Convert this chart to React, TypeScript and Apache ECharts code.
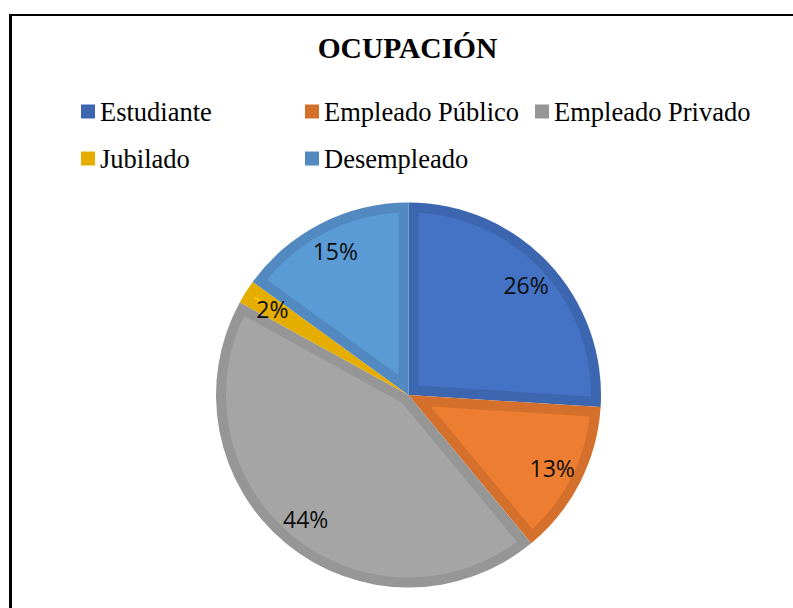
import React, { useEffect, useRef } from "react";
import * as echarts from "echarts";

const titleText = "OCUPACIÓN";
const categories = ["Estudiante", "Empleado Público", "Empleado Privado", "Jubilado", "Desempleado"];
const values = [26, 13, 44, 2, 15];
const fillColors = ["#4472C4", "#ED7D31", "#A5A5A5", "#FFC000", "#5B9BD5"];
const edgeColors = ["#3C66B0", "#D4702C", "#969696", "#E5AD00", "#5189C0"];
const legendColumns = [
  ["Estudiante", "Jubilado"],
  ["Empleado Público", "Desempleado"],
  ["Empleado Privado"],
];
const legendLefts = [81, 305, 535];

const CX = 408.5;
const CY = 395;
const R = 192.5;
const INSET = 10;

export default function App() {
  const ref = useRef<HTMLDivElement>(null);
  useEffect(() => {
    const chart = echarts.init(ref.current!, null, { renderer: "svg" });
    const total = values.reduce((a, b) => a + b, 0);
    const pt = (r: number, a: number) => [CX + r * Math.sin(a), CY - r * Math.cos(a)];
    const renderInset = (params: any) => {
      const i = params.dataIndex;
      const before = values.slice(0, i).reduce((a, b) => a + b, 0);
      const a0 = (before / total) * Math.PI * 2;
      const a1 = ((before + values[i]) / total) * Math.PI * 2;
      const half = (a1 - a0) / 2;
      const mid = a0 + half;
      const apexR = INSET / Math.sin(half);
      const rIn = R - INSET;
      const da = Math.asin(INSET / rIn);
      const s = a0 + da;
      const e = a1 - da;
      const points: number[][] = [pt(apexR, mid)];
      if (e > s) {
        const n = 80;
        for (let k = 0; k <= n; k++) points.push(pt(rIn, s + ((e - s) * k) / n));
      }
      return { type: "polygon", shape: { points }, style: { fill: fillColors[i] } };
    };
    const pieData = categories.map((name, i) => ({
      name,
      value: values[i],
      itemStyle: { color: edgeColors[i] },
    }));
    chart.setOption({
      animation: false,
      title: {
        text: titleText,
        left: "center",
        top: 28,
        textStyle: { fontFamily: "Liberation Serif", fontWeight: "bold", fontSize: 29.5, color: "#000" },
      },
      legend: legendColumns.map((col, ci) => ({
        data: col,
        orient: "vertical",
        left: legendLefts[ci],
        top: 98,
        padding: 0,
        itemGap: 20,
        icon: "rect",
        itemWidth: 14,
        itemHeight: 14,
        selectedMode: false,
        textStyle: { fontFamily: "Liberation Serif", fontSize: 26.5, color: "#000" },
      })),
      series: [
        {
          type: "pie",
          name: "base",
          center: [CX, CY],
          radius: R,
          startAngle: 90,
          clockwise: true,
          z: 2,
          silent: true,
          label: { show: false },
          labelLine: { show: false },
          itemStyle: { borderWidth: 0 },
          data: pieData,
        },
        {
          type: "custom",
          name: "inset",
          coordinateSystem: "none",
          silent: true,
          z: 3,
          renderItem: renderInset,
          data: values,
        },
        {
          type: "pie",
          name: "labels",
          center: [CX, CY],
          radius: [124, R],
          startAngle: 90,
          clockwise: true,
          z: 4,
          silent: true,
          itemStyle: { color: "rgba(0,0,0,0)", borderWidth: 0 },
          label: {
            show: true,
            position: "inside",
            formatter: "{d}%",
            fontFamily: "Open Sans",
            fontSize: 23,
            color: "#0D0D0D",
          },
          labelLine: { show: false },
          data: categories.map((name, i) => ({ name, value: values[i] })),
        },
      ],
    });
    return () => chart.dispose();
  }, []);
  return (
    <div
      style={{
        position: "fixed",
        left: 0,
        top: 0,
        width: 793,
        height: 608,
        overflow: "hidden",
        background: "#fff",
      }}
    >
      <div
        style={{
          position: "absolute",
          left: 9,
          top: 14,
          width: 900,
          height: 700,
          borderLeft: "3px solid #000",
          borderTop: "2px solid #000",
        }}
      />
      <div ref={ref} style={{ position: "absolute", left: 0, top: 0, width: 815, height: 608 }} />
    </div>
  );
}
